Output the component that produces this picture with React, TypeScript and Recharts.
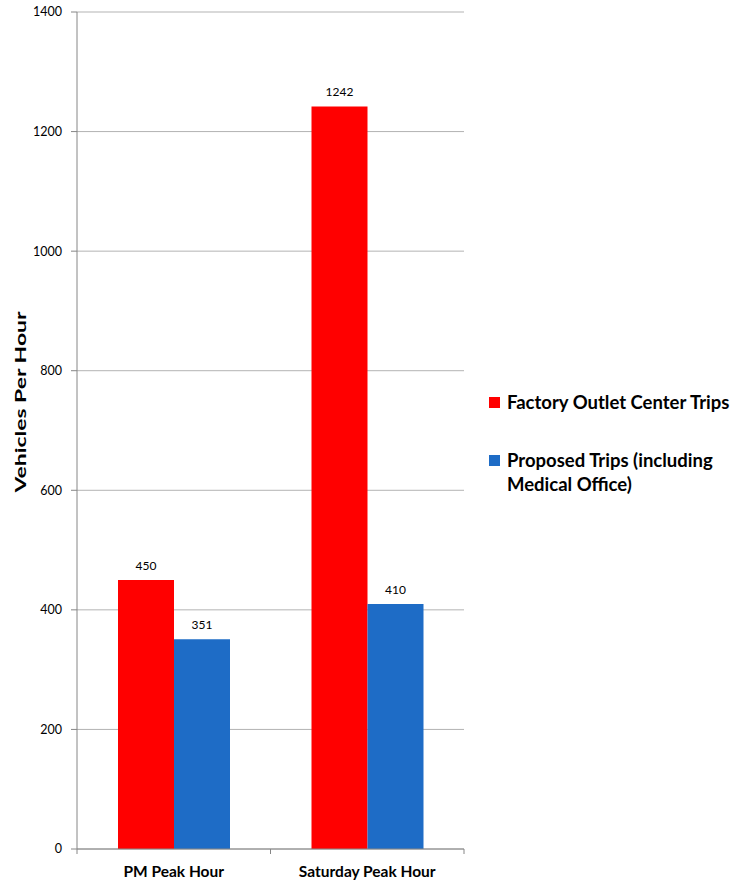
import { Bar, BarChart, CartesianGrid, LabelList, Legend, XAxis, YAxis } from "recharts";

const categories = ["PM Peak Hour", "Saturday Peak Hour"];
const factoryTrips = [450, 1242];
const proposedTrips = [351, 410];
const yTicks = [0, 200, 400, 600, 800, 1000, 1200, 1400];

const seriesNames = {
  factory: "Factory Outlet Center Trips",
  proposed: "Proposed Trips (including Medical Office)",
};

const RED = "#FF0000";
const BLUE = "#1E6CC6";
const FONT = "Lato, 'Open Sans', sans-serif";

const data = categories.map((name, i) => ({
  name,
  factory: factoryTrips[i],
  proposed: proposedTrips[i],
}));

// ticks sit on the band edges, label in the middle
function CategoryTick(props: any) {
  const { x, y, payload } = props;
  const half = payload.offset || 0;
  const top = y - 8;
  return (
    <g>
      <line x1={x - half} y1={top} x2={x - half} y2={top + 5} stroke="#868686" />
      <line x1={x + half} y1={top} x2={x + half} y2={top + 5} stroke="#868686" />
      <text x={x} y={y + 9} dy="0.71em" textAnchor="middle" fontSize={15.5} fontWeight={700} fill="#000" fontFamily={FONT}>
        {payload.value}
      </text>
    </g>
  );
}

function YTitle() {
  return (
    <text
      x={0}
      y={0}
      transform="translate(26 402) rotate(-90)"
      textAnchor="middle"
      fontSize={15}
      fontWeight={700}
      fill="#000"
      fontFamily={FONT}
      textLength={181}
      lengthAdjust="spacingAndGlyphs"
    >
      Vehicles Per Hour
    </text>
  );
}

function LegendBox(props: any) {
  const items = props.payload || [];
  return (
    <div style={{ fontFamily: FONT, fontWeight: 700, fontSize: 18.5, color: "#000" }}>
      {items.map((it: any) => (
        <div key={it.value} style={{ display: "flex", alignItems: "flex-start", marginBottom: 34, lineHeight: "24px" }}>
          <span style={{ width: 11, height: 11, background: it.color, marginTop: 7, marginRight: 7, flexShrink: 0 }} />
          <span style={{ width: 228 }}>{it.value}</span>
        </div>
      ))}
    </div>
  );
}

export default function App() {
  return (
    <div style={{ position: "absolute", left: 0, top: 0, background: "#fff" }}>
      <BarChart
        width={734}
        height={882}
        data={data}
        margin={{ top: 12, right: 270, bottom: 0, left: 0 }}
        barGap={0}
        barSize={56}
        style={{ fontFamily: FONT }}
      >
        <CartesianGrid vertical={false} stroke="#b3b3b3" />
        <XAxis
          dataKey="name"
          height={33}
          stroke="#868686"
          tickLine={false}
          interval={0}
          tick={<CategoryTick />}
        />
        <YAxis
          width={77}
          domain={[0, 1400]}
          ticks={yTicks}
          stroke="#868686"
          tickSize={6}
          tickMargin={9}
          tick={{ fontSize: 12.5, fill: "#000", fontFamily: FONT }}
          label={<YTitle />}
        />
        <Legend
          layout="vertical"
          align="center"
          verticalAlign="middle"
          content={<LegendBox />}
          wrapperStyle={{ left: 489, top: 390, width: 245 }}
        />
        <Bar dataKey="factory" name={seriesNames.factory} fill={RED} isAnimationActive={false}>
          <LabelList dataKey="factory" position="top" offset={10} fontSize={12} fill="#000" fontFamily={FONT} />
        </Bar>
        <Bar dataKey="proposed" name={seriesNames.proposed} fill={BLUE} isAnimationActive={false}>
          <LabelList dataKey="proposed" position="top" offset={10} fontSize={12} fill="#000" fontFamily={FONT} />
        </Bar>
      </BarChart>
    </div>
  );
}
